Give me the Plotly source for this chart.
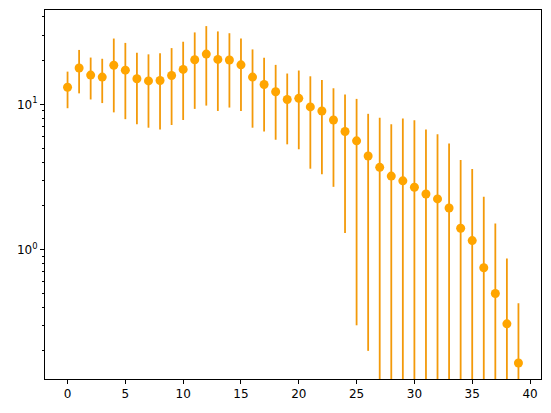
import plotly.graph_objects as go

x_vals = list(range(40))
y_vals = [13.1, 17.8, 15.9, 15.4, 18.6, 17.2, 15.0, 14.5, 14.6, 15.8,
          17.4, 20.3, 22.2, 20.4, 20.2, 18.7, 15.4, 13.7, 12.2, 10.8,
          11.0, 9.6, 9.0, 7.8, 6.5, 5.6, 4.4, 3.68, 3.2, 2.97,
          2.68, 2.41, 2.23, 1.93, 1.40, 1.15, 0.747, 0.497, 0.307, 0.165]
y_err = [3.7, 5.9, 5.1, 5.2, 9.8, 9.3, 7.7, 7.6, 7.9, 8.6,
         9.6, 11.0, 12.4, 11.4, 10.7, 9.7, 8.5, 7.2, 6.5, 5.5,
         6.1, 6.0, 5.7, 5.1, 5.2, 5.3, 4.2, 4.4, 4.1, 5.0,
         5.1, 4.3, 4.0, 3.45, 2.73, 2.43, 1.56, 1.01, 0.56, 0.26]

x_ticks = [0, 5, 10, 15, 20, 25, 30, 35, 40]
y_ticks = [1, 10]
y_tick_text = ["10<sup>0</sup>", "10<sup>1</sup>"]
y_minor = [0.2, 0.3, 0.4, 0.5, 0.6, 0.7, 0.8, 0.9,
           2, 3, 4, 5, 6, 7, 8, 9, 20, 30, 40]

fig = go.Figure()
fig.add_trace(go.Scatter(
    x=x_vals, y=y_vals, mode="markers",
    marker=dict(color="#FFA500", size=9, line=dict(width=0)),
    error_y=dict(type="data", array=y_err, visible=True,
                 color="#F39A0A", thickness=1.8, width=0),
    showlegend=False,
))

axis_common = dict(showline=True, linecolor="black", linewidth=1, mirror=True,
                   ticks="outside", ticklen=4, tickcolor="black", showgrid=False,
                   zeroline=False, tickfont=dict(family="DejaVu Sans", size=12, color="black"))

fig.update_layout(
    width=543, height=405,
    margin=dict(l=37, r=10, t=2, b=34, autoexpand=False),
    paper_bgcolor="white", plot_bgcolor="white",
    xaxis=dict(range=[-1.95, 40.95], tickvals=x_ticks, **axis_common),
    yaxis=dict(type="log", range=[-0.893, 1.650], tickvals=y_ticks,
               ticktext=y_tick_text,
               minor=dict(ticks="outside", ticklen=2, tickcolor="black", tickvals=y_minor),
               **axis_common),
)

fig.write_html("out.html")
